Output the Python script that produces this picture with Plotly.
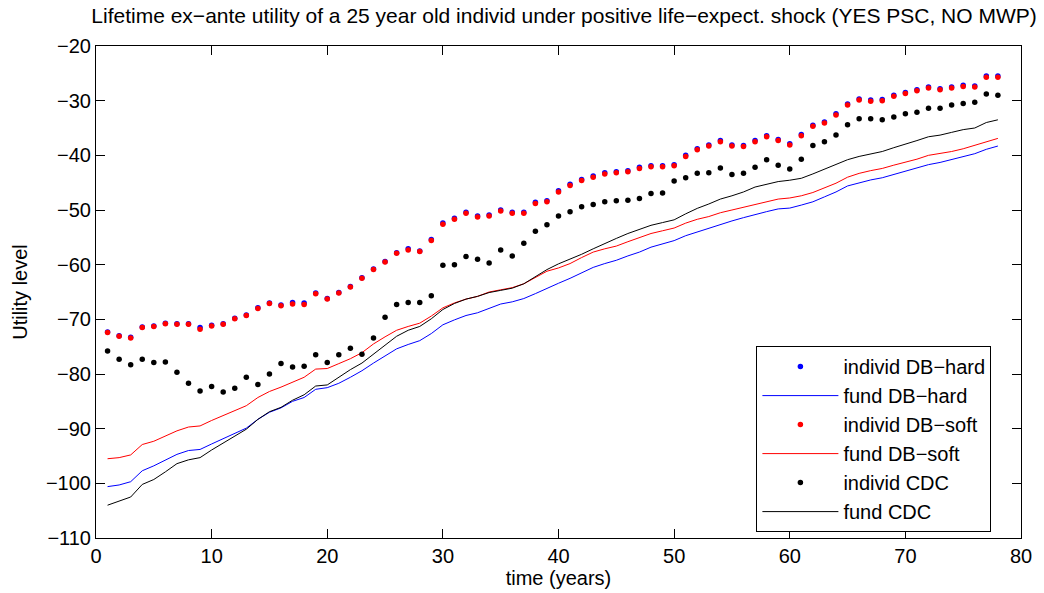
import plotly.graph_objects as go

years = list(range(1, 79))

individ_db_soft = [-72.4, -73.1, -73.4, -71.5, -71.3, -70.8, -70.9, -70.9, -71.8, -71.2,
                   -70.9, -69.9, -69.3, -68.0, -67.1, -67.5, -67.2, -67.3, -65.3, -66.3,
                   -65.2, -64.1, -62.5, -60.9, -59.5, -57.9, -57.3, -57.6, -55.6, -52.6,
                   -51.7, -50.6, -51.3, -51.1, -50.2, -50.6, -50.6, -48.8, -48.5, -46.7,
                   -45.5, -44.6, -44.0, -43.4, -43.2, -43.0, -42.4, -42.1, -42.1, -41.9,
                   -40.2, -39.0, -38.3, -37.5, -38.3, -38.4, -37.5, -36.6, -37.3, -38.1,
                   -36.4, -34.7, -34.1, -32.6, -30.8, -29.9, -30.1, -30.0, -29.2, -28.7,
                   -28.2, -27.7, -28.0, -27.7, -27.4, -27.5, -25.7, -25.7]

individ_db_hard = [-72.3, -73.0, -73.3, -71.4, -71.2, -70.7, -70.8, -70.8, -71.5, -71.1,
                   -70.8, -69.8, -69.2, -67.9, -67.0, -67.4, -66.9, -67.0, -65.2, -66.2,
                   -65.1, -64.0, -62.4, -60.8, -59.4, -57.8, -57.1, -57.5, -55.4, -52.4,
                   -51.5, -50.4, -51.1, -50.9, -50.0, -50.4, -50.4, -48.6, -48.3, -46.5,
                   -45.3, -44.4, -43.8, -43.2, -43.0, -42.8, -42.2, -41.9, -41.9, -41.7,
                   -40.0, -38.8, -38.1, -37.3, -38.1, -38.2, -37.3, -36.4, -37.1, -37.9,
                   -36.2, -34.5, -33.9, -32.4, -30.6, -29.7, -29.9, -29.8, -29.0, -28.5,
                   -28.0, -27.5, -27.8, -27.5, -27.2, -27.3, -25.5, -25.5]

individ_cdc = [-75.8, -77.3, -78.3, -77.3, -77.9, -77.8, -79.7, -81.7, -83.1, -82.3,
               -83.3, -82.6, -80.6, -81.9, -80.0, -78.1, -78.7, -78.6, -76.5, -77.9,
               -76.5, -75.3, -76.4, -73.4, -69.6, -67.3, -66.9, -66.9, -65.7, -60.1,
               -60.0, -58.5, -59.0, -59.7, -57.3, -58.4, -56.1, -53.9, -52.7, -51.1,
               -50.3, -49.4, -49.0, -48.5, -48.3, -48.2, -47.9, -47.0, -46.9, -44.7,
               -44.1, -43.3, -43.2, -42.3, -43.5, -43.3, -42.2, -40.8, -41.8, -42.5,
               -40.7, -38.2, -37.5, -36.3, -34.4, -33.3, -33.3, -33.5, -33.0, -32.4,
               -32.1, -31.4, -31.4, -30.8, -30.5, -30.3, -28.8, -29.0]

fund_db_soft = [-95.5, -95.3, -94.8, -92.9, -92.3, -91.3, -90.4, -89.7, -89.5, -88.5,
                -87.6, -86.7, -85.8, -84.3, -83.2, -82.4, -81.5, -80.6, -79.1, -79.0,
                -78.1, -77.2, -76.1, -74.5, -73.2, -72.0, -71.3, -70.7, -69.4, -67.9,
                -67.0, -66.3, -65.8, -65.0, -64.6, -64.2, -63.5, -62.4, -61.2, -60.6,
                -59.8, -58.7, -57.7, -57.1, -56.6, -55.8, -55.0, -54.3, -53.8, -53.3,
                -52.4, -51.7, -51.2, -50.5, -50.0, -49.5, -48.9, -48.4, -48.0, -47.8,
                -47.4, -46.8, -46.0, -45.1, -44.0, -43.3, -42.8, -42.4, -41.8, -41.3,
                -40.7, -40.0, -39.7, -39.3, -38.8, -38.2, -37.5, -36.9]

fund_db_hard = [-100.6, -100.3, -99.7, -97.7, -96.8, -95.7, -94.7, -94.0, -93.8, -92.8,
                -91.8, -90.8, -89.9, -88.3, -87.0, -86.2, -85.0, -84.3, -82.8, -82.5,
                -81.7, -80.6, -79.4, -78.0, -76.7, -75.4, -74.6, -73.9, -72.6, -71.0,
                -70.1, -69.3, -68.8, -68.0, -67.2, -66.8, -66.2, -65.3, -64.3, -63.4,
                -62.5, -61.5, -60.5, -59.8, -59.2, -58.4, -57.7, -56.8, -56.2, -55.6,
                -54.7, -54.0, -53.4, -52.6, -52.0, -51.4, -50.8, -50.3, -49.8, -49.65,
                -49.1, -48.5, -47.6, -46.7, -45.6, -45.0, -44.5, -44.1, -43.5, -43.0,
                -42.4, -41.7, -41.3, -40.8, -40.3, -39.7, -38.9, -38.3]

fund_cdc = [-104.0, -103.3, -102.5, -100.2, -99.3, -97.9, -96.4, -95.7, -95.3, -93.9,
            -92.6, -91.3, -90.1, -88.3, -86.9, -86.1, -84.8, -83.8, -82.2, -82.0,
            -80.6, -79.2, -78.0, -76.4, -74.8, -73.1, -72.0, -71.3, -69.9, -68.2,
            -67.1, -66.3, -65.8, -65.1, -64.7, -64.3, -63.5, -62.2, -60.9, -59.85,
            -59.0, -58.1, -57.1, -56.1, -55.2, -54.3, -53.5, -52.8, -52.3, -51.8,
            -50.7, -49.7, -48.9, -48.0, -47.4, -46.7, -45.8, -45.3, -44.8, -44.55,
            -44.2, -43.4, -42.5, -41.6, -40.8, -40.2, -39.8, -39.3, -38.6, -38.0,
            -37.3, -36.6, -36.3, -35.8, -35.3, -35.0, -34.0, -33.5]

FONT = "Liberation Sans, Arial, Helvetica, sans-serif"
MS = 5.5

fig = go.Figure()
fig.add_trace(go.Scatter(x=years, y=individ_db_hard, mode="markers", name="individ DB\u2212hard",
                         marker=dict(color="#0000ff", size=MS)))
fig.add_trace(go.Scatter(x=years, y=fund_db_hard, mode="lines", name="fund DB\u2212hard",
                         line=dict(color="#0000ff", width=1)))
fig.add_trace(go.Scatter(x=years, y=individ_db_soft, mode="markers", name="individ DB\u2212soft",
                         marker=dict(color="#ff0000", size=MS)))
fig.add_trace(go.Scatter(x=years, y=fund_db_soft, mode="lines", name="fund DB\u2212soft",
                         line=dict(color="#ff0000", width=1)))
fig.add_trace(go.Scatter(x=years, y=individ_cdc, mode="markers", name="individ CDC",
                         marker=dict(color="#000000", size=MS)))
fig.add_trace(go.Scatter(x=years, y=fund_cdc, mode="lines", name="fund CDC",
                         line=dict(color="#000000", width=1)))

axis_common = dict(showline=True, linecolor="black", linewidth=1, mirror="ticks",
                   ticks="inside", ticklen=9, tickcolor="black", showgrid=False,
                   zeroline=False, tickfont=dict(family=FONT, size=20, color="black"))

fig.update_layout(
    width=1044, height=593,
    margin=dict(l=96, r=15, t=46, b=55),
    paper_bgcolor="white", plot_bgcolor="white",
    font=dict(family=FONT, color="black", size=20),
    title=dict(text="Lifetime ex\u2212ante utility of a 25 year old individ under positive life\u2212expect. shock (YES PSC, NO MWP)",
               x=0.506, xref="paper", xanchor="center", y=1 - 16 / 593, yref="container",
               yanchor="middle", font=dict(family=FONT, size=21, color="black")),
    xaxis=dict(range=[0, 80], dtick=10, tick0=0,
               title=dict(text="time (years)", font=dict(family=FONT, size=20), standoff=0),
               **axis_common),
    yaxis=dict(range=[-110, -20], dtick=10, tick0=-110,
               title=dict(text="Utility level", font=dict(family=FONT, size=20), standoff=12),
               **axis_common),
    legend=dict(x=0.968, y=0.012, xanchor="right", yanchor="bottom",
                bgcolor="white", bordercolor="black", borderwidth=1,
                font=dict(family=FONT, size=20, color="black"),
                itemwidth=76),
    showlegend=True,
)

fig.write_html("out.html")
